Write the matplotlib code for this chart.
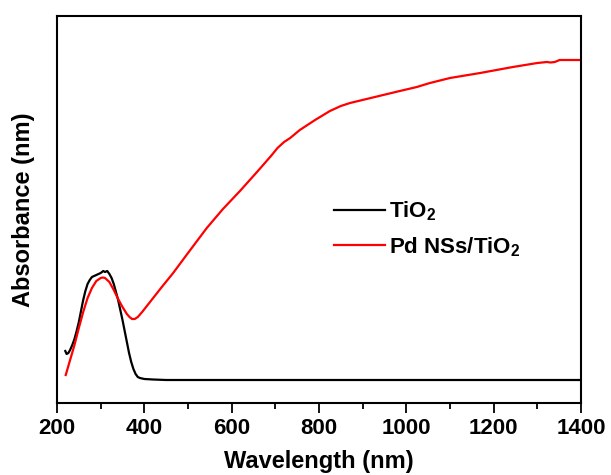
import matplotlib
matplotlib.use("Agg")
import matplotlib.pyplot as plt
from matplotlib.ticker import MultipleLocator

plt.rcParams['font.family'] = ['Liberation Sans', 'DejaVu Sans']
plt.rcParams['font.weight'] = 'bold'
plt.rcParams['mathtext.fontset'] = 'custom'
plt.rcParams['mathtext.rm'] = 'Liberation Sans:bold'
plt.rcParams['mathtext.default'] = 'rm'

# TiO2 (black)
tio2_x = [219, 222, 226, 230, 235, 240, 245, 250, 255, 260, 265, 270, 275, 280, 290,
          300, 306, 310, 315, 320, 325, 330, 335, 340, 345, 350, 355, 360, 365, 370,
          375, 380, 385, 390, 400, 420, 450, 600, 800, 1000, 1200, 1400]
tio2_y = [52, 49, 50, 53, 58, 64, 72, 81, 92, 103, 112, 119, 123, 126, 128,
          130, 132, 131, 132, 129, 125, 119, 111, 103, 93, 83, 72, 61, 50, 41,
          34, 29, 26, 25, 24, 23.5, 23, 23, 23, 23, 23, 23]

# Pd NSs/TiO2 (red)
pd_x = [220, 230, 240, 250, 260, 270, 280, 290, 300, 305, 310, 320, 330, 340, 350,
        360, 366, 372, 378, 385, 395, 413, 440, 466, 500, 543, 580, 619, 660, 690,
        705, 720, 734, 756, 791, 825, 850, 871, 909, 947, 985, 1024, 1054, 1100, 1169,
        1244, 1300, 1322, 1330, 1340, 1351, 1400]
pd_y = [28, 43, 58, 75, 91, 105, 115, 122, 125, 125.5, 125, 121, 113, 104, 96,
        89, 86, 84, 84, 86, 91, 101, 116, 130, 150, 175, 194, 212, 232, 247,
        255, 261, 265, 273, 283, 292, 297, 300, 304, 308, 312, 316, 320, 325, 330,
        336, 340, 341, 340.5, 341, 343, 343]

xticks = [200, 400, 600, 800, 1000, 1200, 1400]

fig = plt.figure(figsize=(6.11, 4.75), dpi=100)
ax = fig.add_axes([57/611, 1-403/475, (581-57)/611, (403-16)/475])

ax.plot(tio2_x, tio2_y, color='black', lw=1.6, label=r'TiO$_2$')
ax.plot(pd_x, pd_y, color='#ff0000', lw=1.6, label=r'Pd NSs/TiO$_2$')

ax.set_xlim(200, 1400)
ax.set_ylim(0, 387)
ax.set_xticks(xticks)
ax.set_xticklabels([str(t) for t in xticks])
ax.xaxis.set_minor_locator(MultipleLocator(100))
ax.set_yticks([])
ax.tick_params(axis='x', which='major', direction='out', length=7, width=1.3,
               labelsize=16, pad=4)
ax.tick_params(axis='x', which='minor', direction='out', length=4, width=1.3)
for s in ax.spines.values():
    s.set_linewidth(1.5)

ax.set_xlabel('Wavelength (nm)', fontsize=17, fontweight='bold', labelpad=8)
ax.set_ylabel('Absorbance (nm)', fontsize=17, fontweight='bold', labelpad=16)

leg = ax.legend(loc='upper left', bbox_to_anchor=(0.49, 0.578), frameon=False,
                fontsize=16, handlelength=2.3, handletextpad=0.2, labelspacing=0.55)

fig.savefig('out.png', dpi=100)
